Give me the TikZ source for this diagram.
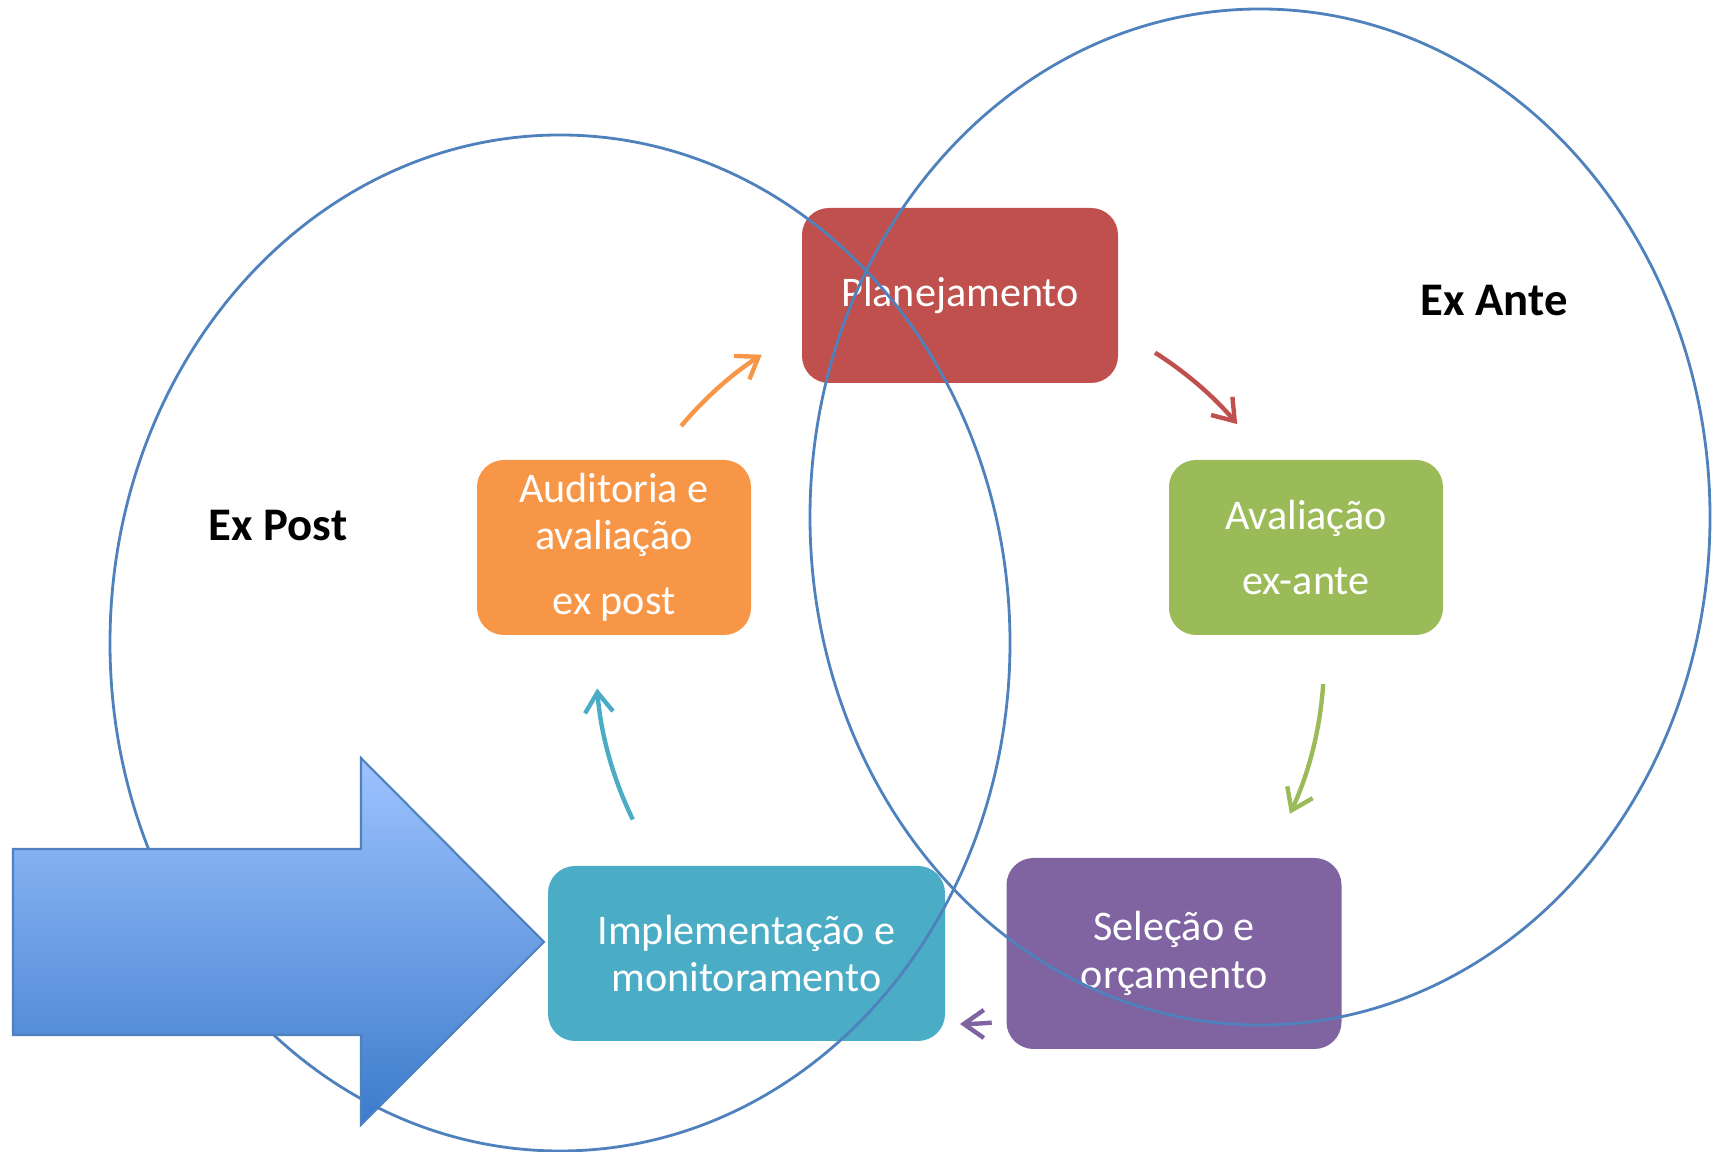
\documentclass[tikz,border=0pt]{standalone}
\usepackage{fontspec}
\setmainfont{Carlito}
\usetikzlibrary{arrows.meta}
\definecolor{planred}{HTML}{C0504D}
\definecolor{antegreen}{HTML}{9BBB59}
\definecolor{selpurple}{HTML}{8064A2}
\definecolor{impteal}{HTML}{4BACC6}
\definecolor{audorange}{HTML}{F79646}
\definecolor{ringblue}{HTML}{4F81BD}
\definecolor{bigtop}{HTML}{9DC3FF}
\definecolor{bigbottom}{HTML}{3C7BCB}

\begin{document}
\begin{tikzpicture}[
  stagebox/.style={rectangle, rounded corners=0.27cm, text=white, align=center, inner sep=0pt, font=\fontsize{12pt}{13.5pt}\selectfont},
  ring/.style={draw=ringblue, line width=0.8pt},
  cyclearrow/.style={line width=1.25pt, -{Straight Barb[length=2mm, width=2.8mm]}},
  side/.style={font=\fontsize{13.3pt}{15pt}\selectfont\bfseries}]%
\useasboundingbox (0,0) rectangle (17.17,11.52);%
\node[stagebox, fill=planred, minimum width=3.16cm, minimum height=1.75cm] (plan) at (9.60, 8.565) {Planejamento};%
\node[stagebox, fill=antegreen, minimum width=2.74cm, minimum height=1.75cm] (ante) at (13.06, 6.045) {Avaliação\\[5pt]ex-ante};%
\node[stagebox, fill=selpurple, minimum width=3.35cm, minimum height=1.91cm] (sel) at (11.74, 1.985) {Seleção e\\orçamento};%
\node[stagebox, fill=impteal, minimum width=3.97cm, minimum height=1.75cm] (impl) at (7.465, 1.985) {Implementação e\\monitoramento};%
\node[stagebox, fill=audorange, minimum width=2.74cm, minimum height=1.75cm] (aud) at (6.14, 6.045) {Auditoria e\\avaliação\\[5pt]ex post};%
% cycle arrows on a ring round the center
\coordinate (cyc) at (9.60, 4.92);%
\draw[cyclearrow, audorange] ([shift={(140:3.64)}]cyc) arc[start angle=140, end angle=123, radius=3.64];%
\draw[cyclearrow, planred] ([shift={(57.6:3.64)}]cyc) arc[start angle=57.6, end angle=40.4, radius=3.64];%
\draw[cyclearrow, antegreen] ([shift={(-3.8:3.64)}]cyc) arc[start angle=-3.8, end angle=-25, radius=3.64];%
\draw[cyclearrow, selpurple] ([shift={(-85:3.64)}]cyc) arc[start angle=-85, end angle=-90, radius=3.64];%
\draw[cyclearrow, impteal] ([shift={(206:3.64)}]cyc) arc[start angle=206, end angle=184.5, radius=3.64];%
% the two rings
\draw[ring] (5.60, 5.09) ellipse [x radius=4.50, y radius=5.08];%
\draw[ring] (12.60, 6.35) ellipse [x radius=4.50, y radius=5.08];%
\node[side] (expost) at (2.78, 6.26) {Ex Post};%
\node[side] (exante) at (14.94, 8.51) {Ex Ante};%
% big entry arrow
\shade[top color=bigtop, bottom color=bigbottom, draw=ringblue, line width=0.6pt] (0.13,1.17) -- (3.61,1.17) -- (3.61,0.27) -- (5.44,2.10) -- (3.61,3.94) -- (3.61,3.03) -- (0.13,3.03) -- cycle;%
\end{tikzpicture}
\end{document}
